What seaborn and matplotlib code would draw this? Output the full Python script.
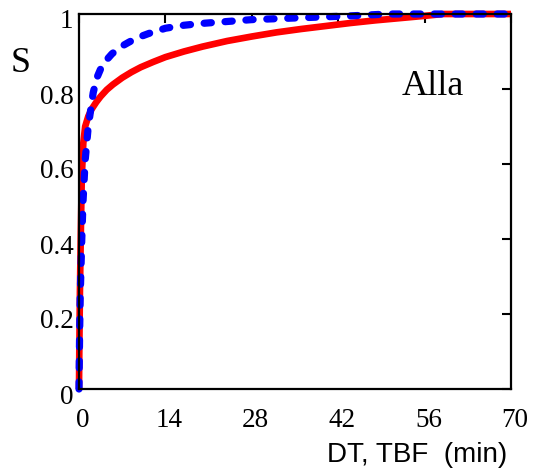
import matplotlib
matplotlib.use("Agg")
import matplotlib.pyplot as plt
import matplotlib.transforms as mtransforms
import seaborn as sns
import pandas as pd

# Data
red_x = [0, 0.05, 0.15, 0.3, 0.45, 0.7, 1.0, 1.5, 2.0, 2.8, 3.5, 4.5, 5.5, 7.0, 8.5, 10.0, 12.0, 14.0, 17.0, 20.0, 24.0, 28.0, 32.0, 36.0, 40.0, 44.0, 48.0, 52.0, 56.0, 59.0, 70.0]
red_S = [0, 0.10, 0.26, 0.42, 0.565, 0.656, 0.70, 0.727, 0.745, 0.765, 0.78, 0.798, 0.812, 0.83, 0.845, 0.858, 0.872, 0.885, 0.90, 0.913, 0.928, 0.94, 0.951, 0.96, 0.968, 0.976, 0.983, 0.989, 0.995, 1.0, 1.0]

blue_x = [0, 0.1, 0.2, 0.45, 0.65, 1.0, 1.5, 2.3, 2.9, 3.8, 5.3, 6.5, 8.1, 9.5, 11.3, 14.0, 17.0, 20.0, 24.0, 28.0, 36.0, 44.0, 50.0, 70.0]
blue_S = [0, 0.15, 0.25, 0.40, 0.50, 0.61, 0.70, 0.79, 0.83, 0.865, 0.893, 0.91, 0.925, 0.937, 0.948, 0.962, 0.97, 0.975, 0.98, 0.985, 0.99, 0.995, 1.0, 1.0]

x_ticks = [0, 14, 28, 42, 56, 70]
y_ticks = [0, 0.2, 0.4, 0.6, 0.8, 1]
y_tick_labels = ["0", "0.2", "0.4", "0.6", "0.8", "1"]

sns.set_style("white")
plt.rcParams['font.family'] = ['Liberation Serif', 'DejaVu Serif']
plt.rcParams['text.color'] = 'black'

fig = plt.figure(figsize=(5.33, 4.71), dpi=100)
ax = fig.add_axes([79/533, 1-389/471, (511-79)/533, (389-14)/471])

red_df = pd.DataFrame({"x": red_x, "S": red_S})
blue_df = pd.DataFrame({"x": blue_x, "S": blue_S})

sns.lineplot(data=red_df, x="x", y="S", ax=ax, color="#ff0000", linewidth=4.8,
             estimator=None, sort=False, clip_on=False, solid_capstyle='butt')
sns.lineplot(data=blue_df, x="x", y="S", ax=ax, color="#0000ff", linewidth=5.2,
             estimator=None, sort=False, clip_on=False, dashes=False)
blue_line = ax.lines[-1]
blue_line.set_dashes((1.0, 1.9))
blue_line.set_dash_capstyle('round')

ax.set_xlim(0, 70)
ax.set_ylim(0, 1)
ax.set_xticks(x_ticks)
ax.set_xticklabels([str(t) for t in x_ticks])
ax.set_yticks(y_ticks)
ax.set_yticklabels(y_tick_labels)
ax.set_xlabel("")
ax.set_ylabel("")

for sp in ax.spines.values():
    sp.set_visible(True)
    sp.set_color("black")
    sp.set_linewidth(1.6)

ax.tick_params(axis='both', which='both', direction='in', length=6.5, width=1.5,
               colors='black', labelcolor='black', labelsize=19.5, top=True, right=True,
               labeltop=False, labelright=False)
ax.tick_params(axis='x', pad=14)
ax.tick_params(axis='y', pad=4)

# Small offsets of tick labels as in the reference
x_off = mtransforms.ScaledTranslation(4/100, 0, fig.dpi_scale_trans)
y_off = mtransforms.ScaledTranslation(0, -5/100, fig.dpi_scale_trans)
for lbl in ax.get_xticklabels():
    lbl.set_transform(lbl.get_transform() + x_off)
for lbl in ax.get_yticklabels():
    lbl.set_transform(lbl.get_transform() + y_off)

fig.text(507/533, 1-455/471, "DT, TBF  (min)", ha='right', va='center', color='black',
         fontsize=20, family=['Liberation Sans', 'DejaVu Sans'])
fig.text(21/533, 1-63/471, "S", ha='center', va='center', fontsize=26, color='black')
fig.text(402/533, 1-95/471, "Alla", ha='left', va='baseline', fontsize=26, color='black')

fig.savefig("out.png", dpi=100)
